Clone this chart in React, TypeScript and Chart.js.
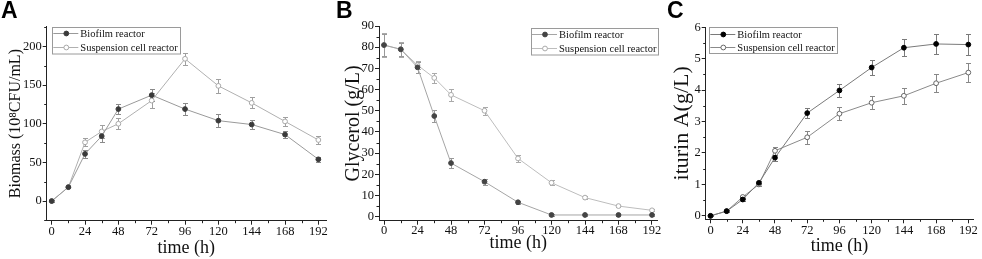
import React, { useEffect, useRef } from 'react';
import { Chart, registerables } from 'chart.js';

Chart.register(...registerables);

// ---------- data ----------
const HOURS = [0, 12, 24, 36, 48, 72, 96, 120, 144, 168, 192];
const X_TICKS = [0, 24, 48, 72, 96, 120, 144, 168, 192];
const SERIES_NAMES = ['Biofilm reactor', 'Suspension cell reactor'];

const BIOMASS_TICKS = [0, 50, 100, 150, 200];
const BIOMASS_BIOFILM = [0, 18, 61, 84, 119, 137, 119, 104, 99, 86, 54];
const BIOMASS_BIOFILM_ERR = [1, 1.5, 5, 7, 6, 8, 8, 8, 6, 5, 3];
const BIOMASS_SUSPENSION = [0, 18, 76, 90, 100, 130, 184, 149, 127, 103, 79];
const BIOMASS_SUSPENSION_ERR = [1, 1.5, 5, 8, 7, 10, 8, 9, 7, 6, 5];

const GLYCEROL_TICKS = [0, 10, 20, 30, 40, 50, 60, 70, 80, 90];
const GLYCEROL_BIOFILM = [81, 79, 70.5, 47.5, 25.3, 16.5, 6.8, 0.8, 0.8, 0.8, 0.8];
const GLYCEROL_BIOFILM_ERR = [5, 3, 2.5, 3, 2.5, 1.5, 0.8, 0.3, 0.3, 0.3, 0.3];
const GLYCEROL_SUSPENSION = [81, 79, 71.5, 65.5, 57.5, 50, 27.5, 16, 9, 5, 3];
const GLYCEROL_SUSPENSION_ERR = [5.5, 3.5, 2, 2.5, 2.8, 2, 1.5, 1.2, 0.8, 0.6, 0.5];

const ITURIN_TICKS = [0, 1, 2, 3, 4, 5, 6];
const ITURIN_BIOFILM = [0, 0.15, 0.52, 1.05, 1.85, 3.27, 3.99, 4.72, 5.35, 5.47, 5.45];
const ITURIN_BIOFILM_ERR = [0.02, 0.04, 0.05, 0.05, 0.1, 0.17, 0.22, 0.24, 0.27, 0.32, 0.33];
const ITURIN_SUSPENSION = [0, 0.15, 0.6, 1.0, 2.07, 2.5, 3.25, 3.6, 3.82, 4.22, 4.56];
const ITURIN_SUSPENSION_ERR = [0.02, 0.04, 0.05, 0.05, 0.13, 0.2, 0.21, 0.2, 0.25, 0.28, 0.3];

// ---------- styling ----------
const SERIF = '"Liberation Serif", "Times New Roman", serif';
const AXIS_COLOR = '#222';

Chart.defaults.font.family = SERIF;
Chart.defaults.font.weight = 'normal' as any;
Chart.defaults.color = '#111';

const errorBarPlugin = {
  id: 'errorBars',
  beforeDatasetsDraw(chart: any) {
    const { ctx } = chart;
    const xs = chart.scales.x;
    const ys = chart.scales.y;
    const cap = 2.5;
    for (let i = chart.data.datasets.length - 1; i >= 0; i--) {
      const ds: any = chart.data.datasets[i];
      const errs: number[] = ds.errors;
      if (!errs) continue;
      ctx.save();
      ctx.strokeStyle = ds.errorColor;
      ctx.lineWidth = 1;
      ds.data.forEach((pt: any, j: number) => {
        const e = errs[j];
        if (!e) return;
        const x = Math.round(xs.getPixelForValue(pt.x)) + 0.5;
        const y1 = Math.round(ys.getPixelForValue(pt.y - e)) + 0.5;
        const y2 = Math.round(ys.getPixelForValue(pt.y + e)) + 0.5;
        ctx.beginPath();
        ctx.moveTo(x, y1);
        ctx.lineTo(x, y2);
        ctx.moveTo(x - cap, y1);
        ctx.lineTo(x + cap, y1);
        ctx.moveTo(x - cap, y2);
        ctx.lineTo(x + cap, y2);
        ctx.stroke();
      });
      ctx.restore();
    }
  },
};

const minorTickPlugin = {
  id: 'minorTicks',
  afterDraw(chart: any) {
    const { ctx, chartArea } = chart;
    const xs = chart.scales.x;
    const ys = chart.scales.y;
    ctx.save();
    ctx.strokeStyle = AXIS_COLOR;
    ctx.lineWidth = 1;
    ctx.beginPath();
    const xt = xs.ticks.map((t: any) => t.value);
    for (let i = 0; i < xt.length - 1; i++) {
      const v = (xt[i] + xt[i + 1]) / 2;
      const px = Math.round(xs.getPixelForValue(v)) + 0.5;
      ctx.moveTo(px, chartArea.bottom);
      ctx.lineTo(px, chartArea.bottom + 2.5);
    }
    const yt = ys.ticks.map((t: any) => t.value);
    const step = yt[1] - yt[0];
    const mids: number[] = [];
    for (let i = 0; i < yt.length - 1; i++) mids.push((yt[i] + yt[i + 1]) / 2);
    if (yt[0] - step / 2 >= ys.min) mids.push(yt[0] - step / 2);
    if (yt[yt.length - 1] + step / 2 <= ys.max) mids.push(yt[yt.length - 1] + step / 2);
    mids.forEach((v) => {
      const py = Math.round(ys.getPixelForValue(v)) + 0.5;
      ctx.moveTo(chartArea.left, py);
      ctx.lineTo(chartArea.left - 2.5, py);
    });
    ctx.stroke();
    ctx.restore();
  },
};

const boxLegendPlugin = {
  id: 'boxLegend',
  afterDraw(chart: any, _args: any, opts: any) {
    const { ctx, chartArea } = chart;
    const bx = chartArea.left + opts.dx;
    const by = chartArea.top + opts.dy;
    ctx.save();
    ctx.strokeStyle = '#9a9a9a';
    ctx.lineWidth = 1;
    ctx.strokeRect(Math.round(bx) + 0.5, Math.round(by) + 0.5, opts.w, opts.h);
    const rows = [6.5, 20];
    chart.data.datasets.forEach((ds: any, i: number) => {
      const cy = Math.round(by + rows[i]) + 0.5;
      ctx.strokeStyle = ds.borderColor;
      ctx.lineWidth = 1;
      ctx.beginPath();
      ctx.moveTo(bx + 1, cy);
      ctx.lineTo(bx + 26, cy);
      ctx.stroke();
      ctx.beginPath();
      ctx.arc(bx + 14, cy, ds.pointRadius, 0, Math.PI * 2);
      ctx.fillStyle = ds.pointBackgroundColor;
      ctx.fill();
      ctx.strokeStyle = ds.pointBorderColor;
      ctx.stroke();
      ctx.fillStyle = '#111';
      ctx.font = `normal 10.5px ${SERIF}`;
      ctx.textBaseline = 'middle';
      ctx.textAlign = 'left';
      ctx.fillText(ds.label, bx + 28, cy + 0.5);
    });
    ctx.restore();
  },
};

type PanelSpec = {
  left: number;
  width: number;
  area: { left: number; top: number; right: number; bottom: number };
  xRange: [number, number];
  yRange: [number, number];
  yTicks: number[];
  yTitle: string;
  yTitleSize: number;
  yTitlePad: number;
  xTitlePad: number;
  tickPadX: number;
  series: { values: number[]; errors: number[] }[];
  colors: {
    line: string;
    fill: string;
    border: string;
    err: string;
  }[];
  legend: { dx: number; dy: number; w: number; h: number };
};

const PANELS: PanelSpec[] = [
  {
    left: 0,
    width: 330,
    area: { left: 46.7, top: 26.5, right: 326, bottom: 220.7 },
    xRange: [-3.6, 197.5],
    yRange: [-25.4, 225.8],
    yTicks: BIOMASS_TICKS,
    yTitle: 'Biomass (10\u2078CFU/mL)',
    yTitleSize: 16,
    yTitlePad: 6,
    xTitlePad: 0,
    tickPadX: 0,
    series: [
      { values: BIOMASS_BIOFILM, errors: BIOMASS_BIOFILM_ERR },
      { values: BIOMASS_SUSPENSION, errors: BIOMASS_SUSPENSION_ERR },
    ],
    colors: [
      { line: '#9a9a9a', fill: '#3a3a3a', border: '#3a3a3a', err: '#8a8a8a' },
      { line: '#b0b0b0', fill: '#ffffff', border: '#a8a8a8', err: '#a0a0a0' },
    ],
    legend: { dx: 5.6, dy: 0.2, w: 128, h: 26.5 },
  },
  {
    left: 330,
    width: 334,
    area: { left: 49, top: 26, right: 327.3, bottom: 220.7 },
    xRange: [-3.6, 195.8],
    yRange: [-1.9, 90],
    yTicks: GLYCEROL_TICKS,
    yTitle: 'Glycerol (g/L)',
    yTitleSize: 20,
    yTitlePad: 12,
    xTitlePad: 4.5,
    tickPadX: -1,
    series: [
      { values: GLYCEROL_BIOFILM, errors: GLYCEROL_BIOFILM_ERR },
      { values: GLYCEROL_SUSPENSION, errors: GLYCEROL_SUSPENSION_ERR },
    ],
    colors: [
      { line: '#a5a5a5', fill: '#444444', border: '#444444', err: '#999999' },
      { line: '#bdbdbd', fill: '#ffffff', border: '#aaaaaa', err: '#aaaaaa' },
    ],
    legend: { dx: 152, dy: 1.7, w: 127, h: 26.5 },
  },
  {
    left: 662,
    width: 320,
    area: { left: 43.7, top: 27.3, right: 311.3, bottom: 219.3 },
    xRange: [-3.6, 195.7],
    yRange: [-0.11, 6],
    yTicks: ITURIN_TICKS,
    yTitle: 'iturin A(g/L)',
    yTitleSize: 22,
    yTitlePad: 7,
    xTitlePad: 1.5,
    tickPadX: 0,
    series: [
      { values: ITURIN_BIOFILM, errors: ITURIN_BIOFILM_ERR },
      { values: ITURIN_SUSPENSION, errors: ITURIN_SUSPENSION_ERR },
    ],
    colors: [
      { line: '#7a7a7a', fill: '#000000', border: '#000000', err: '#7a7a7a' },
      { line: '#8a8a8a', fill: '#ffffff', border: '#666666', err: '#888888' },
    ],
    legend: { dx: 3.6, dy: 0, w: 128, h: 26 },
  },
];

const HEIGHT = 259;

function Panel({ spec }: { spec: PanelSpec }) {
  const ref = useRef<HTMLCanvasElement | null>(null);
  useEffect(() => {
    if (!ref.current) return;
    const a = spec.area;
    const datasets = spec.series.map((s, i) => ({
      label: SERIES_NAMES[i],
      data: HOURS.map((h, j) => ({ x: h, y: s.values[j] })),
      errors: s.errors,
      errorColor: spec.colors[i].err,
      borderColor: spec.colors[i].line,
      borderWidth: 1,
      pointRadius: 2.4,
      pointBorderWidth: 1,
      pointBackgroundColor: spec.colors[i].fill,
      pointBorderColor: spec.colors[i].border,
      pointHoverRadius: 2.4,
      tension: 0,
      fill: false,
      clip: false as any,
    }));
    const chart = new Chart(ref.current, {
      type: 'line',
      data: { datasets: datasets as any },
      plugins: [errorBarPlugin, minorTickPlugin, boxLegendPlugin],
      options: {
        animation: false,
        responsive: false,
        maintainAspectRatio: false,
        devicePixelRatio: 1,
        events: [],
        layout: {
          padding: { top: a.top, right: spec.width - a.right, left: 0, bottom: 0 },
        },
        plugins: {
          legend: { display: false },
          tooltip: { enabled: false },
          boxLegend: spec.legend,
        } as any,
        scales: {
          x: {
            type: 'linear',
            min: spec.xRange[0],
            max: spec.xRange[1],
            afterBuildTicks: (s: any) => {
              s.ticks = X_TICKS.map((v) => ({ value: v }));
            },
            afterFit: (s: any) => {
              s.height = HEIGHT - a.bottom;
              s.paddingLeft = 0;
              s.paddingRight = 0;
            },
            grid: {
              drawOnChartArea: false,
              drawTicks: true,
              tickLength: 4,
              tickColor: AXIS_COLOR,
              tickWidth: 1,
            },
            border: { display: true, color: AXIS_COLOR, width: 1 },
            ticks: {
              font: { family: SERIF, size: 12.5, weight: 'normal' },
              color: '#111',
              padding: spec.tickPadX,
              maxRotation: 0,
              autoSkip: false,
            },
            title: {
              display: true,
              text: 'time (h)',
              color: '#111',
              font: { family: SERIF, size: 18, weight: 'normal' },
              padding: { top: 0, bottom: spec.xTitlePad },
            },
          },
          y: {
            type: 'linear',
            min: spec.yRange[0],
            max: spec.yRange[1],
            afterBuildTicks: (s: any) => {
              s.ticks = spec.yTicks.map((v) => ({ value: v }));
            },
            afterFit: (s: any) => {
              s.width = a.left;
              s.paddingTop = 0;
              s.paddingBottom = 0;
            },
            grid: {
              drawOnChartArea: false,
              drawTicks: true,
              tickLength: 4,
              tickColor: AXIS_COLOR,
              tickWidth: 1,
            },
            border: { display: true, color: AXIS_COLOR, width: 1 },
            ticks: {
              font: { family: SERIF, size: 12.5, weight: 'normal' },
              color: '#111',
              padding: 1,
              autoSkip: false,
            },
            title: {
              display: true,
              text: spec.yTitle,
              color: '#111',
              font: { family: SERIF, size: spec.yTitleSize, weight: 'normal' },
              padding: { top: spec.yTitlePad, bottom: 0 },
            },
          },
        },
      } as any,
    });
    return () => chart.destroy();
  }, [spec]);
  return (
    <canvas
      ref={ref}
      width={spec.width}
      height={HEIGHT}
      style={{
        position: 'absolute',
        left: spec.left,
        top: 0,
        width: spec.width,
        height: HEIGHT,
      }}
    />
  );
}

const PANEL_LETTERS = [
  { text: 'A', left: 1 },
  { text: 'B', left: 336 },
  { text: 'C', left: 667 },
];

export default function App() {
  return (
    <div
      style={{
        position: 'absolute',
        left: 0,
        top: 0,
        width: 982,
        height: HEIGHT,
        background: '#ffffff',
        overflow: 'hidden',
      }}
    >
      {PANELS.map((p, i) => (
        <Panel key={i} spec={p} />
      ))}
      {PANEL_LETTERS.map((l) => (
        <div
          key={l.text}
          style={{
            position: 'absolute',
            left: l.left,
            top: -1,
            font: `bold 23px "Liberation Sans", Arial, sans-serif`,
            lineHeight: '23px',
            color: '#000',
          }}
        >
          {l.text}
        </div>
      ))}
    </div>
  );
}
